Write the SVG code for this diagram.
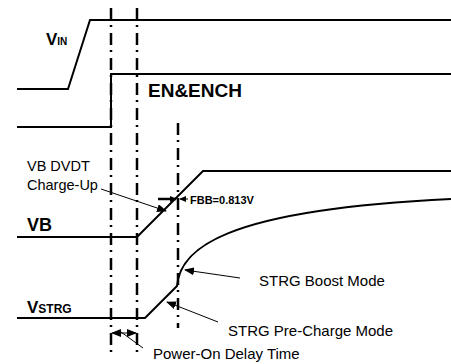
<svg xmlns="http://www.w3.org/2000/svg" width="451" height="364" viewBox="0 0 451 364">
<defs>
<style>
.sig{fill:none;stroke:#000;stroke-width:2;stroke-linejoin:miter}
.dash{fill:none;stroke:#000;stroke-width:2.5;stroke-dasharray:12 5 2 6}
.lead{fill:none;stroke:#000;stroke-width:1}
.lbl{font-family:"Liberation Sans",Arial,sans-serif;fill:#000}
.b{font-weight:bold}
</style>
<marker id="ah" markerUnits="userSpaceOnUse" markerWidth="10" markerHeight="8" refX="9" refY="4" orient="auto">
<path d="M0,0 L10,4 L0,8 Z" fill="#000"/>
</marker>
<marker id="ahs" markerUnits="userSpaceOnUse" markerWidth="7" markerHeight="6" refX="6" refY="3" orient="auto">
<path d="M0,0 L7,3 L0,6 Z" fill="#000"/>
</marker>
</defs>
<rect width="451" height="364" fill="#fff"/>
<g id="guides">
<line class="dash" x1="111" y1="8" x2="111" y2="356"/>
<line class="dash" x1="137" y1="8" x2="137" y2="356"/>
<line class="dash" x1="178" y1="123" x2="178" y2="328"/>
</g>
<g id="vin">
<path class="sig" d="M17,89 L68,89 L90,20 L451,20"/>
<text class="lbl b" x="46" y="45" font-size="17">V<tspan font-size="10" dy="0">IN</tspan></text>
</g>
<g id="en">
<path class="sig" d="M17,127 L111,127 L111,74 L451,74"/>
<text class="lbl b" x="148" y="97" font-size="19">EN&amp;ENCH</text>
</g>
<g id="vb">
<path class="sig" d="M17,237 L137,237 L203,171 L451,171"/>
<text class="lbl b" x="27" y="231" font-size="18">VB</text>
<text class="lbl" x="27" y="171" font-size="14.5">VB DVDT</text>
<text class="lbl" x="27" y="190" font-size="14.5">Charge-Up</text>
<text class="lbl b" x="190" y="204" font-size="11">FBB=0.813V</text>
</g>
<g id="vstrg">
<path class="sig" d="M17,318 L145,318 L177,286 C180,250 220,210 451,199"/>
<text class="lbl b" x="27" y="313" font-size="17">V<tspan font-size="12">STRG</tspan></text>
<text class="lbl" x="259" y="286" font-size="15">STRG Boost Mode</text>
<text class="lbl" x="228" y="336" font-size="15">STRG Pre-Charge Mode</text>
<text class="lbl" x="153" y="359" font-size="15">Power-On Delay Time</text>
</g>
<g id="connectors">
<line class="lead" x1="101" y1="189" x2="166" y2="211" marker-end="url(#ah)"/>
<line class="lead" x1="240" y1="278" x2="185" y2="270" marker-end="url(#ah)"/>
<line class="lead" x1="218" y1="322" x2="167" y2="302" marker-end="url(#ah)"/>
<line stroke="#000" stroke-width="2.5" x1="158" y1="199" x2="176" y2="199" marker-end="url(#ahs)"/>
<line class="lead" x1="188" y1="199" x2="180" y2="199" marker-end="url(#ahs)"/>
<line class="lead" x1="124" y1="333" x2="112" y2="333" marker-end="url(#ah)"/>
<line class="lead" x1="124" y1="333" x2="136" y2="333" marker-end="url(#ah)"/>
<line class="lead" x1="143" y1="348" x2="121" y2="332"/>
</g>
</svg>
